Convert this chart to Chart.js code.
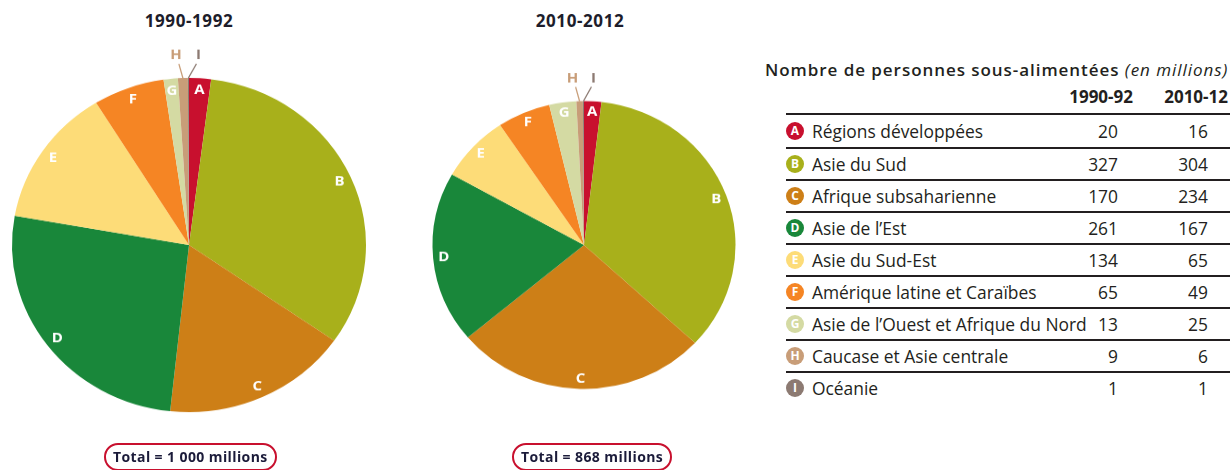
<!DOCTYPE html>
<html>
<head>
<meta charset="utf-8">
<script src="https://cdn.jsdelivr.net/npm/chart.js@4.4.1/dist/chart.umd.min.js"></script>
<style>
  body { margin: 0; width: 1230px; height: 470px; overflow: hidden; background: #fff; position: relative;
         font-family: "Open Sans", sans-serif; color: #231f20; }
  canvas { position: absolute; }
  .pie-title { position: absolute; top: 9px; width: 200px; text-align: center; font-weight: 700; font-size: 17px;
               letter-spacing: 0.6px; color: #1d1d2b; }
  .total { position: absolute; top: 443px; height: 24px; line-height: 24px; padding: 0 7px; border: 2px solid #c8102e;
           border-radius: 14px; font-weight: 700; font-size: 14px; letter-spacing: 0.4px; color: #1b1b3a; white-space: nowrap; }
  .tbl-title { position: absolute; left: 765px; top: 58px; font-size: 17px; letter-spacing: 0.95px; font-weight: 600; white-space: nowrap; }
  .tbl-title i { font-weight: 400; }
  .col-head { position: absolute; top: 85px; font-size: 17px; font-weight: 700; text-align: right; width: 100px; }
  .row { position: absolute; left: 786px; width: 444px; border-top: 2px solid #231f20; box-sizing: border-box; font-size: 17.4px; }
  .row span { position: absolute; top: 50%; transform: translateY(-50%); white-space: nowrap; }
  .icon { left: 0; width: 18px; height: 18px; border-radius: 50%; color: #fff; font-size: 12px; font-weight: 700;
          text-align: center; line-height: 18px; }
  .val { text-align: right; width: 60px; }
</style>
</head>
<body>
<div class="pie-title" style="left:89px">1990-1992</div>
<div class="pie-title" style="left:480px">2010-2012</div>
<canvas id="pie1" width="380" height="440" style="left:-1px; top:25px; transform:scaleY(0.944); transform-origin:190px 220px;"></canvas>
<canvas id="pie2" width="340" height="400" style="left:414px; top:45px; transform:scaleY(0.95); transform-origin:170px 200px;"></canvas>
<div class="total" style="left:104px">Total = 1 000 millions</div>
<div class="total" style="left:512px">Total = 868 millions</div>
<div class="tbl-title">Nombre de personnes sous-alimentées <i>(en millions)</i></div>
<div id="table"></div>
<script>
const letters = ['A', 'B', 'C', 'D', 'E', 'F', 'G', 'H', 'I'];
const regions = ['Régions développées', 'Asie du Sud', 'Afrique subsaharienne', 'Asie de l’Est', 'Asie du Sud-Est',
  'Amérique latine et Caraïbes', 'Asie de l’Ouest et Afrique du Nord', 'Caucase et Asie centrale', 'Océanie'];
const values1990 = [20, 327, 170, 261, 134, 65, 13, 9, 1];
const values2010 = [16, 304, 234, 167, 65, 49, 25, 6, 1];
const columnLabels = ['1990-92', '2010-12'];
const colors = ['#c8102e', '#a8b01b', '#cd7f17', '#19873a', '#fddc78', '#f58524', '#d4daa3', '#c89d78', '#8c7a72'];

// small slices labelled outside with a short leader line
const leaders = {
  H: { dx: -4, dy: -15, tx: -3, ty: -9 },
  I: { dx: 8, dy: -15, tx: 2, ty: -9 }
};

const sliceLabels = {
  id: 'sliceLabels',
  afterDatasetsDraw(chart) {
    const ctx = chart.ctx;
    const meta = chart.getDatasetMeta(0);
    ctx.save();
    ctx.font = 'bold 15px "Open Sans"';
    ctx.textAlign = 'center';
    ctx.textBaseline = 'middle';
    meta.data.forEach((arc, i) => {
      const p = arc.getProps(['x', 'y', 'startAngle', 'endAngle', 'outerRadius'], true);
      const mid = (p.startAngle + p.endAngle) / 2;
      const lead = leaders[letters[i]];
      if (lead) {
        const ex = p.x + Math.cos(mid) * p.outerRadius;
        const ey = p.y + Math.sin(mid) * p.outerRadius;
        ctx.strokeStyle = colors[i];
        ctx.lineWidth = 1.3;
        ctx.beginPath();
        ctx.moveTo(ex, ey);
        ctx.lineTo(ex + lead.dx, ey + lead.dy);
        ctx.stroke();
        ctx.fillStyle = colors[i];
        ctx.fillText(letters[i], ex + lead.dx + lead.tx, ey + lead.dy + lead.ty);
      } else {
        const r = p.outerRadius * 0.93;
        ctx.fillStyle = '#fff';
        ctx.fillText(letters[i], p.x + Math.cos(mid) * r, p.y + Math.sin(mid) * r);
      }
    });
    ctx.restore();
  }
};

function makePie(id, values, pad) {
  new Chart(document.getElementById(id), {
    type: 'pie',
    data: {
      labels: regions,
      datasets: [{ data: values, backgroundColor: colors, borderWidth: 0 }]
    },
    options: {
      responsive: false,
      animation: false,
      layout: { padding: pad },
      plugins: { legend: { display: false }, tooltip: { enabled: false } }
    },
    plugins: [sliceLabels]
  });
}

makePie('pie1', values1990, { left: 13, right: 13, top: 43, bottom: 43 });
makePie('pie2', values2010, { left: 18.5, right: 18.5, top: 48.5, bottom: 48.5 });

// table on the right
const table = document.getElementById('table');
[1133, 1228].forEach((right, k) => {
  const h = document.createElement('div');
  h.className = 'col-head';
  h.style.left = (right - 100) + 'px';
  h.textContent = columnLabels[k];
  table.appendChild(h);
});

let rowTop = 113;
regions.forEach((name, i) => {
  const hgt = i === 0 ? 34 : 32;
  const row = document.createElement('div');
  row.className = 'row';
  row.style.top = rowTop + 'px';
  row.style.height = hgt + 'px';
  row.innerHTML =
    '<span class="icon" style="background:' + colors[i] + '">' + letters[i] + '</span>' +
    '<span style="left:26px">' + name + '</span>' +
    '<span class="val" style="left:272px">' + values1990[i] + '</span>' +
    '<span class="val" style="left:362px">' + values2010[i] + '</span>';
  table.appendChild(row);
  rowTop += hgt;
});
</script>
</body>
</html>
